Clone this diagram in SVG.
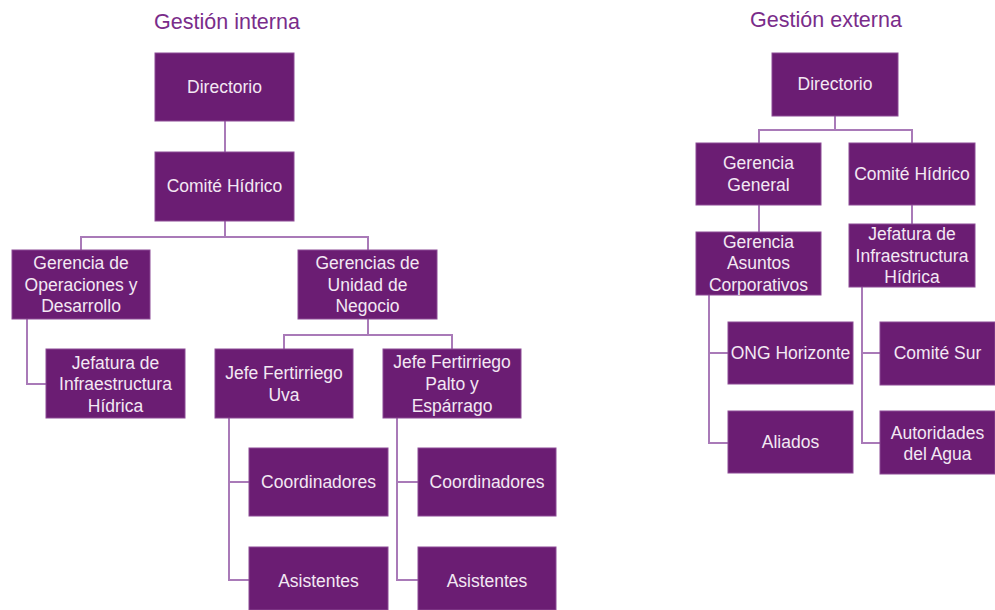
<svg xmlns="http://www.w3.org/2000/svg" width="995" height="610" viewBox="0 0 995 610">
<style>
.box{fill:#6B1D73;stroke:#8C4A95;stroke-width:1}
.t{font-family:"Liberation Sans",Arial,sans-serif;font-size:17.5px;fill:#F3E8F3;text-anchor:middle}
.title{font-family:"Liberation Sans",Arial,sans-serif;font-size:21.5px;fill:#7A2C8A;text-anchor:middle}
.c{fill:none;stroke:#A97AB8;stroke-width:2}
</style>
<rect width="995" height="610" fill="#FFFFFF"/>
<text class="title" x="227" y="29">Gestión interna</text>
<text class="title" x="826" y="27">Gestión externa</text>
<g id="connectors">
<path class="c" d="M225,121 V152"/>
<path class="c" d="M225,221 V237 M81,250 V237 H368 V250"/>
<path class="c" d="M27,319 V384 H46"/>
<path class="c" d="M368,319 V335 M284,349 V335 H452 V349"/>
<path class="c" d="M229,418 V580 H249 M229,482 H249"/>
<path class="c" d="M397,418 V580 H418 M397,482 H418"/>
<path class="c" d="M835,116 V130 M759,143 V130 H912 V143"/>
<path class="c" d="M759,205 V232"/>
<path class="c" d="M912,205 V224"/>
<path class="c" d="M709,295 V443 H728 M709,353 H728"/>
<path class="c" d="M862,287 V443 H880 M862,353 H880"/>
</g>
<g id="i-directorio"><rect class="box" x="155" y="53" width="139" height="68"/><text class="t" x="224.5" y="93">Directorio</text></g>
<g id="i-comite"><rect class="box" x="155" y="152" width="139" height="69"/><text class="t" x="224.5" y="192">Comité Hídrico</text></g>
<g id="i-gerencia-op"><rect class="box" x="12" y="250" width="138" height="69"/><text class="t" x="81" y="269">Gerencia de</text><text class="t" x="81" y="291">Operaciones y</text><text class="t" x="81" y="312">Desarrollo</text></g>
<g id="i-gerencias-un"><rect class="box" x="298" y="250" width="139" height="69"/><text class="t" x="367.5" y="269">Gerencias de</text><text class="t" x="367.5" y="291">Unidad de</text><text class="t" x="367.5" y="312">Negocio</text></g>
<g id="i-jefatura"><rect class="box" x="46" y="349" width="139" height="69"/><text class="t" x="115.5" y="369">Jefatura de</text><text class="t" x="115.5" y="390">Infraestructura</text><text class="t" x="115.5" y="412">Hídrica</text></g>
<g id="i-jefe-uva"><rect class="box" x="215" y="349" width="138" height="69"/><text class="t" x="284" y="379">Jefe Fertirriego</text><text class="t" x="284" y="401">Uva</text></g>
<g id="i-jefe-palto"><rect class="box" x="383" y="349" width="138" height="69"/><text class="t" x="452" y="368">Jefe Fertirriego</text><text class="t" x="452" y="390">Palto y</text><text class="t" x="452" y="412">Espárrago</text></g>
<g id="i-coord-1"><rect class="box" x="249" y="448" width="139" height="68"/><text class="t" x="318.5" y="488">Coordinadores</text></g>
<g id="i-asist-1"><rect class="box" x="249" y="547" width="139" height="63"/><text class="t" x="318.5" y="587">Asistentes</text></g>
<g id="i-coord-2"><rect class="box" x="418" y="448" width="138" height="68"/><text class="t" x="487" y="488">Coordinadores</text></g>
<g id="i-asist-2"><rect class="box" x="418" y="547" width="138" height="63"/><text class="t" x="487" y="587">Asistentes</text></g>
<g id="e-directorio"><rect class="box" x="772" y="53" width="126" height="63"/><text class="t" x="835" y="90">Directorio</text></g>
<g id="e-gerencia-general"><rect class="box" x="696" y="143" width="125" height="62"/><text class="t" x="758.5" y="169">Gerencia</text><text class="t" x="758.5" y="191">General</text></g>
<g id="e-comite"><rect class="box" x="849" y="143" width="126" height="62"/><text class="t" x="912" y="180">Comité Hídrico</text></g>
<g id="e-gac"><rect class="box" x="696" y="232" width="125" height="63"/><text class="t" x="758.5" y="248">Gerencia</text><text class="t" x="758.5" y="269">Asuntos</text><text class="t" x="758.5" y="291">Corporativos</text></g>
<g id="e-jefatura"><rect class="box" x="849" y="224" width="126" height="63"/><text class="t" x="912" y="240">Jefatura de</text><text class="t" x="912" y="262">Infraestructura</text><text class="t" x="912" y="283">Hídrica</text></g>
<g id="e-ong"><rect class="box" x="728" y="322" width="125" height="62"/><text class="t" x="790.5" y="359">ONG Horizonte</text></g>
<g id="e-aliados"><rect class="box" x="728" y="411" width="125" height="62"/><text class="t" x="790.5" y="448">Aliados</text></g>
<g id="e-comite-sur"><rect class="box" x="880" y="322" width="115" height="63"/><text class="t" x="937.5" y="359">Comité Sur</text></g>
<g id="e-autoridades"><rect class="box" x="880" y="411" width="115" height="63"/><text class="t" x="937.5" y="439">Autoridades</text><text class="t" x="937.5" y="460">del Agua</text></g>
</svg>
